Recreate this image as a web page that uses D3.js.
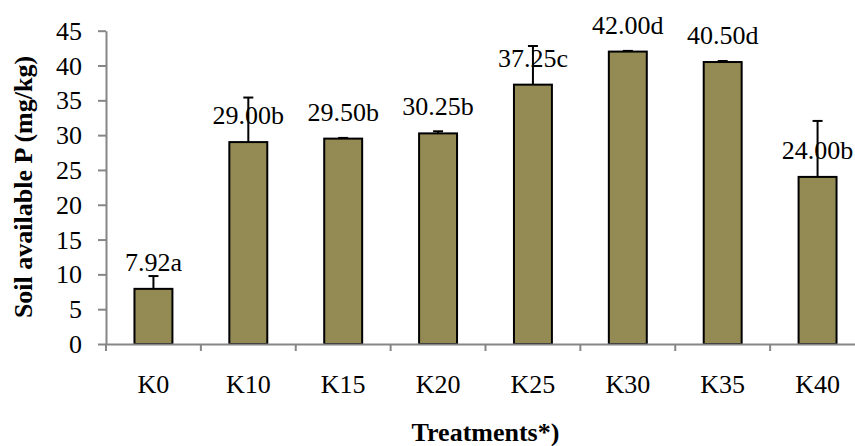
<!DOCTYPE html>
<html>
<head>
<meta charset="utf-8">
<script src="https://cdn.jsdelivr.net/npm/d3@7"></script>
<style>
  body { margin: 0; background: #fff; }
  svg { display: block; }
  text { font-family: "Liberation Serif", "Times New Roman", serif; fill: #000; }
</style>
</head>
<body>
<svg id="chart" width="855" height="446"></svg>
<script>
// Soil available P per K treatment, with standard error and significance letters
const treatments = ["K0", "K10", "K15", "K20", "K25", "K30", "K35", "K40"];
const meanP = [7.92, 29.00, 29.50, 30.25, 37.25, 42.00, 40.50, 24.00];
const errorP = [1.84, 6.4, 0.1, 0.3, 5.55, 0.1, 0.15, 8.04];
const letters = ["a", "b", "b", "b", "c", "d", "d", "b"];
const yTicks = [0, 5, 10, 15, 20, 25, 30, 35, 40, 45];

const svg = d3.select("#chart");
const axisColor = "#868686";
const fontSize = 26;

const x = d3.scaleBand().domain(treatments).range([106, 865]).padding(0);
const y = d3.scaleLinear().domain([0, 45]).range([344, 30.7]);
const barW = x.step() * 0.4;

// bars
svg.append("g").selectAll("rect")
  .data(treatments)
  .join("rect")
  .attr("x", (d) => x(d) + (x.step() - barW) / 2)
  .attr("y", (d, i) => y(meanP[i]))
  .attr("width", barW)
  .attr("height", (d, i) => y(0) - y(meanP[i]))
  .attr("fill", "#948A54")
  .attr("stroke", "#000")
  .attr("stroke-width", 2);

// upper error bars
const eb = svg.append("g").attr("stroke", "#000").attr("stroke-width", 2);
treatments.forEach((d, i) => {
  const cx = x(d) + x.step() / 2;
  eb.append("line")
    .attr("x1", cx).attr("x2", cx)
    .attr("y1", y(meanP[i])).attr("y2", y(meanP[i] + errorP[i]));
  eb.append("line")
    .attr("x1", cx - 5).attr("x2", cx + 5)
    .attr("y1", y(meanP[i] + errorP[i])).attr("y2", y(meanP[i] + errorP[i]));
});

// value labels
svg.append("g").selectAll("text")
  .data(treatments)
  .join("text")
  .attr("x", (d) => x(d) + x.step() / 2)
  .attr("y", (d, i) => y(meanP[i]) - 18)
  .attr("text-anchor", "middle")
  .attr("font-size", fontSize)
  .text((d, i) => meanP[i].toFixed(2) + letters[i]);

// y axis
const yAxis = svg.append("g")
  .attr("transform", "translate(106,0)")
  .call(d3.axisLeft(y).tickValues(yTicks).tickSize(8).tickSizeOuter(0).tickPadding(16));
yAxis.select(".domain").attr("stroke", axisColor).attr("stroke-width", 2);
yAxis.selectAll(".tick line").attr("stroke", axisColor).attr("stroke-width", 2);
yAxis.selectAll(".tick text")
  .attr("font-size", fontSize)
  .attr("font-family", "Liberation Serif, Times New Roman, serif")
  .attr("fill", "#000")
  .attr("dy", "0.33em");

// x axis
const xAxis = svg.append("g")
  .attr("transform", "translate(0,344)")
  .call(d3.axisBottom(x).tickSize(0).tickSizeOuter(0));
xAxis.select(".domain").attr("stroke", axisColor).attr("stroke-width", 2);
xAxis.selectAll(".tick text")
  .attr("font-size", fontSize)
  .attr("font-family", "Liberation Serif, Times New Roman, serif")
  .attr("fill", "#000")
  .attr("y", 49)
  .attr("dy", 0);

// category boundary ticks
const bounds = treatments.map((d) => x(d)).concat([x.range()[1]]);
svg.append("g").selectAll("line")
  .data(bounds)
  .join("line")
  .attr("x1", (d) => d).attr("x2", (d) => d)
  .attr("y1", 344).attr("y2", 351)
  .attr("stroke", axisColor)
  .attr("stroke-width", 2);

// axis titles
svg.append("text")
  .attr("transform", "translate(32,187) rotate(-90)")
  .attr("text-anchor", "middle")
  .attr("font-size", fontSize)
  .attr("font-weight", "bold")
  .text("Soil available P (mg/kg)");

svg.append("text")
  .attr("x", (x.range()[0] + x.range()[1]) / 2)
  .attr("y", 441)
  .attr("text-anchor", "middle")
  .attr("font-size", fontSize)
  .attr("font-weight", "bold")
  .text("Treatments*)");
</script>
</body>
</html>
